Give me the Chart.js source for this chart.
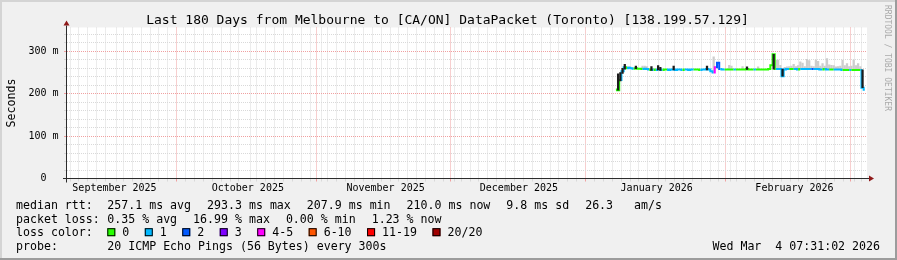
<!DOCTYPE html>
<html>
<head>
<meta charset="utf-8">
<script src="https://cdn.jsdelivr.net/npm/chart.js@4.4.1/dist/chart.umd.min.js"></script>
<style>
  html, body { margin: 0; padding: 0; background: #f0f0f0; }
  canvas { display: block; }
</style>
</head>
<body>
<canvas id="chart" width="897" height="260"></canvas>
<script>
// x is in days since Fri Sep 5 2025 07:31:02 (start of the 180 day window)
const monthStarts = [25.687, 56.687, 86.687, 117.687, 148.687, 176.687];
const monthLabelDays = [10.687, 40.687, 71.687, 101.687, 132.687, 163.687];
const monthLabels = ['September 2025', 'October 2025', 'November 2025', 'December 2025', 'January 2026', 'February 2026'];
const minorStart = 1.687; // Sep 7, then every 2 days

const yTicks = [0, 20, 40, 60, 80, 100, 120, 140, 160, 180, 200, 220, 240, 260, 280, 300, 320, 340];
const yLabels = { 0: '0  ', 100: '100 m', 200: '200 m', 300: '300 m' };

// median rtt (ms), one value every half day from day 123.5
const firstDay = 123.5, sampleStep = 0.5;
const median = [
  210, 208, 232, 253, 262, 260, 261, 260, 259, 260,
  259, 259, 258, 259, 258, 257, 256, 257, 256, 257,
  257, 256, 257, 257, 256, 257, 257, 256, 257, 257,
  256, 257, 257, 256, 257, 257, 257, 257, 256, 257,
  257, 258, 257, 253, 250, 262, 273, 258, 257, 257,
  257, 257, 257, 257, 257, 257, 257, 257, 257, 258,
  257, 257, 257, 257, 257, 257, 257, 257, 257, 258,
  267, 293, 258, 258, 258, 241, 257, 258, 258, 258,
  258, 258, 257, 258, 258, 258, 258, 258, 258, 258,
  258, 258, 257, 257, 258, 257, 257, 257, 257, 257,
  257, 257, 256, 256, 256, 256, 256, 256, 256, 256,
  256, 214, 209
];
// loss colour class per sample (index into lossLabels)
const loss = [
  0, 0, 1, 1, 0, 1, 1, 1, 0, 0,
  0, 0, 1, 1, 1, 0, 1, 0, 1, 1,
  1, 0, 0, 1, 1, 1, 1, 1, 1, 1,
  0, 1, 1, 1, 1, 0, 0, 0, 1, 1,
  1, 1, 1, 1, 4, 2, 2, 1, 1, 0,
  0, 0, 0, 1, 0, 0, 0, 0, 0, 0,
  0, 0, 1, 0, 0, 0, 0, 0, 0, 0,
  0, 0, 1, 1, 1, 1, 1, 1, 0, 0,
  1, 1, 0, 1, 1, 1, 1, 1, 2, 1,
  1, 1, 1, 0, 1, 1, 0, 0, 1, 1,
  1, 1, 0, 0, 0, 1, 0, 0, 0, 0,
  1, 1, 0
];
// light smoke: sample index and top of the ping spread (ms)
const smokeIdx = [5, 6, 12, 13, 14, 44, 51, 52, 57, 64, 72, 73, 74,
  76, 77, 78, 79, 80, 81, 82, 83, 84, 85, 86, 87, 88, 89, 90, 91, 92, 93,
  94, 95, 96, 97, 98, 99, 100, 101, 102, 103, 104, 105, 106, 107, 108, 109, 110];
const smokeTop = [264, 264, 265, 265, 264, 287, 267, 265, 264, 263, 279, 279, 267,
  262, 263, 264, 265, 269, 264, 266, 275, 272, 264, 281, 278, 265, 264, 279, 276, 265, 271,
  265, 283, 268, 267, 266, 263, 264, 265, 279, 266, 271, 264, 265, 279, 266, 271, 264];
// dark smoke (dense pings) where the median jumps
const darkIdx = [1, 2, 3, 4, 9, 16, 19, 20, 26, 41, 59, 71, 75, 111];
const darkLo = [208, 230, 248, 258, 259, 255, 256, 255, 256, 256, 257, 258, 241, 214];
const darkHi = [247, 250, 260, 269, 265, 264, 266, 262, 265, 265, 263, 293, 258, 256];

const lossLabels = ['0', '1', '2', '3', '4-5', '6-10', '11-19', '20/20'];
const lossColors = ['#26ff00', '#00b8ff', '#0059ff', '#7e00ff', '#ff00ff', '#ff5500', '#ff0000', '#a10000'];

const legendRtt = ['257.1 ms avg', '293.3 ms max', '207.9 ms min', '210.0 ms now', '9.8 ms sd', '26.3   am/s'];
const legendLoss = ['0.35 % avg', '16.99 % max', '0.00 % min', '1.23 % now'];
const probeText = '20 ICMP Echo Pings (56 Bytes) every 300s';
const stampText = 'Wed Mar  4 07:31:02 2026';
const titleText = 'Last 180 Days from Melbourne to [CA/ON] DataPacket (Toronto) [138.199.57.129]';

const MONO = '"DejaVu Sans Mono", monospace';
const GRID = '#d9d9d9';
const MGRID = '#f0a0a0';
const CLEAR = 'rgba(0,0,0,0)';

const dayOf = i => firstDay + i * sampleStep;

const xTicks = [];
for (let d = minorStart; d < 180; d += 2) {
  if (!monthStarts.some(m => Math.abs(m - d) < 0.01)) xTicks.push({ value: d, kind: 0 });
}
monthStarts.forEach(v => xTicks.push({ value: v, kind: 1 }));
monthLabelDays.forEach((v, i) => xTicks.push({ value: v, kind: 2, text: monthLabels[i] }));
xTicks.sort((a, b) => a.value - b.value);

function xGridColor(c) {
  const t = c.tick || (c.index !== undefined ? xTicks[c.index] : null);
  if (!t) return CLEAR;
  return t.kind === 1 ? MGRID : t.kind === 0 ? GRID : CLEAR;
}
function yGridColor(c) {
  if (!c.tick) return CLEAR;
  const v = c.tick.value;
  return v === 0 ? CLEAR : v % 100 === 0 ? MGRID : GRID;
}

const frame = {
  id: 'frame',
  beforeDraw(chart) {
    const { ctx, chartArea: a } = chart;
    ctx.save();
    ctx.fillStyle = '#f0f0f0';
    ctx.fillRect(0, 0, 897, 260);
    ctx.fillStyle = '#d4d4d4';
    ctx.fillRect(0, 0, 897, 2);
    ctx.fillRect(0, 0, 2, 260);
    ctx.fillStyle = '#9c9c9c';
    ctx.fillRect(0, 258, 897, 2);
    ctx.fillRect(895, 0, 2, 260);
    ctx.fillStyle = '#ffffff';
    ctx.fillRect(a.left, a.top, a.right - a.left, a.bottom - a.top);
    ctx.restore();
  },
  afterDraw(chart) {
    const { ctx, chartArea: a } = chart;
    ctx.save();
    // axes with arrows
    ctx.strokeStyle = '#2c2c2c';
    ctx.lineWidth = 1;
    ctx.beginPath();
    ctx.moveTo(a.left - 4, a.bottom);
    ctx.lineTo(a.right + 2, a.bottom);
    ctx.moveTo(a.left - 0.5, a.bottom + 4);
    ctx.lineTo(a.left - 0.5, a.top - 2);
    ctx.stroke();
    ctx.fillStyle = '#8f1a1a';
    ctx.beginPath();
    ctx.moveTo(a.right + 2, a.bottom - 3);
    ctx.lineTo(a.right + 2, a.bottom + 3);
    ctx.lineTo(a.right + 7, a.bottom);
    ctx.closePath();
    ctx.fill();
    ctx.beginPath();
    ctx.moveTo(a.left - 3.5, a.top - 2);
    ctx.lineTo(a.left + 2.5, a.top - 2);
    ctx.lineTo(a.left - 0.5, a.top - 7);
    ctx.closePath();
    ctx.fill();

    ctx.fillStyle = '#000';
    ctx.textBaseline = 'alphabetic';
    // title
    ctx.font = '13px ' + MONO;
    ctx.textAlign = 'center';
    ctx.fillText(titleText, 447.5, 24);
    // y title
    ctx.font = '11.6px ' + MONO;
    ctx.save();
    ctx.translate(14.5, (a.top + a.bottom) / 2);
    ctx.rotate(-Math.PI / 2);
    ctx.fillText('Seconds', 0, 0);
    ctx.restore();

    // legend
    ctx.textAlign = 'left';
    const x0 = 16, x1 = 107.3, gap = 16;
    const rows = [209, 222.6, 236.2, 249.8];
    const rowItems = (items, y) => {
      let x = x1;
      items.forEach(t => { ctx.fillText(t, x, y); x += ctx.measureText(t).width + gap; });
    };
    ctx.fillText('median rtt:', x0, rows[0]);
    rowItems(legendRtt, rows[0]);
    ctx.fillText('packet loss:', x0, rows[1]);
    rowItems(legendLoss, rows[1]);
    ctx.fillText('loss color:', x0, rows[2]);
    let bx = x1;
    lossLabels.forEach((t, i) => {
      ctx.fillStyle = lossColors[i];
      ctx.fillRect(bx, rows[2] - 8, 8, 8);
      ctx.strokeStyle = '#000';
      ctx.strokeRect(bx + 0.5, rows[2] - 7.5, 7, 7);
      ctx.fillStyle = '#000';
      ctx.fillText(t, bx + 15, rows[2]);
      bx += 15 + ctx.measureText(t).width + 15.5;
    });
    ctx.fillText('probe:', x0, rows[3]);
    ctx.fillText(probeText, x1, rows[3]);
    ctx.textAlign = 'right';
    ctx.fillText(stampText, 880, rows[3]);

    // watermark
    ctx.fillStyle = '#aaaaaa';
    ctx.font = '8px ' + MONO;
    ctx.textAlign = 'left';
    ctx.translate(885, 5);
    ctx.rotate(Math.PI / 2);
    ctx.fillText('RRDTOOL / TOBI OETIKER', 0, 0);
    ctx.restore();
  }
};

new Chart(document.getElementById('chart'), {
  type: 'line',
  data: {
    datasets: [
      {
        type: 'bar',
        order: 2,
        grouped: false,
        data: smokeIdx.map((k, j) => ({ x: dayOf(k), y: [median[k], smokeTop[j]] })),
        backgroundColor: '#cdcdcd',
        borderWidth: 0,
        barThickness: 1.6
      },
      {
        type: 'line',
        order: 1,
        data: median.map((v, i) => ({ x: dayOf(i), y: v })),
        borderColor: lossColors[0],
        borderWidth: 2,
        pointRadius: 0,
        stepped: 'middle',
        segment: { borderColor: c => lossColors[loss[c.p0DataIndex]] }
      },
      {
        type: 'bar',
        order: 0,
        grouped: false,
        data: darkIdx.map((k, j) => ({ x: dayOf(k), y: [darkLo[j], darkHi[j]] })),
        backgroundColor: '#1c1c1c',
        borderWidth: 0,
        barThickness: 1.6
      }
    ]
  },
  options: {
    responsive: false,
    animation: false,
    devicePixelRatio: 1,
    layout: { padding: { left: 0, right: 30, top: 27.5, bottom: 61.5 } },
    plugins: { legend: { display: false }, tooltip: { enabled: false } },
    scales: {
      x: {
        type: 'linear',
        min: 0,
        max: 180,
        offset: false,
        afterBuildTicks: s => { s.ticks = xTicks.map(t => ({ ...t })); },
        afterFit: s => { s.height = 20; },
        ticks: {
          autoSkip: false,
          maxRotation: 0,
          padding: 1,
          color: '#000',
          font: { family: MONO, size: 10 },
          callback: (v, i) => (xTicks[i] && xTicks[i].text) || ''
        },
        grid: {
          color: xGridColor,
          lineWidth: 1,
          tickLength: 3
        },
        border: { display: false, dash: [1, 1] }
      },
      y: {
        min: 0,
        max: 356,
        afterBuildTicks: s => { s.ticks = yTicks.map(v => ({ value: v })); },
        afterFit: s => { s.width = 67; },
        ticks: {
          autoSkip: false,
          padding: 5.5,
          color: '#000',
          font: { family: MONO, size: 10 },
          callback: v => yLabels[v] || ''
        },
        grid: {
          color: yGridColor,
          lineWidth: 1,
          tickLength: 3
        },
        border: { display: false, dash: [1, 1] }
      }
    }
  },
  plugins: [frame]
});
</script>
</body>
</html>
